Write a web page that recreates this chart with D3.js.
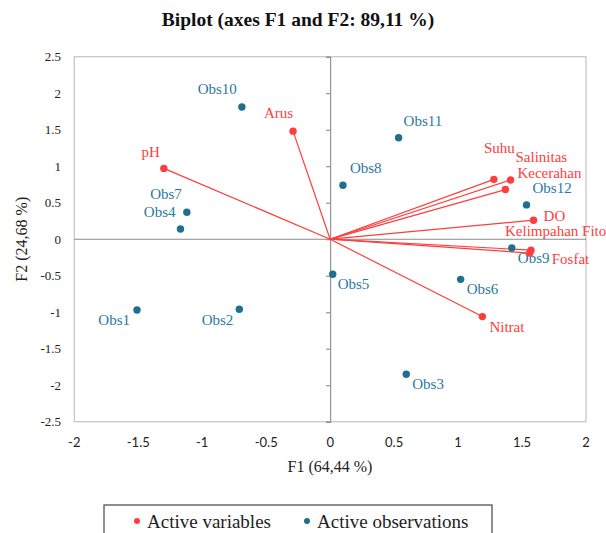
<!DOCTYPE html>
<html>
<head>
<meta charset="utf-8">
<script src="https://cdn.jsdelivr.net/npm/d3@7"></script>
<style>
    html, body { margin: 0; padding: 0; background: #ffffff; }
    svg { display: block; }
</style>
</head>
<body>
<svg id="chart" width="606" height="533"></svg>
<script>
// ------------------------------------------------------------
// Data
// ------------------------------------------------------------
const varNames = ["pH", "Arus", "Suhu", "Salinitas", "Kecerahan", "DO", "Kelimpahan Fito", "Fosfat", "Nitrat"];
const varF1 = [-1.30, -0.29, 1.28, 1.41, 1.37, 1.59, 1.57, 1.56, 1.19];
const varF2 = [0.97, 1.48, 0.82, 0.81, 0.68, 0.26, -0.15, -0.19, -1.06];

const obsNames = ["Obs1", "Obs2", "Obs3", "Obs4", "Obs5", "Obs6", "Obs7", "Obs8", "Obs9", "Obs10", "Obs11", "Obs12"];
const obsF1 = [-1.51, -0.71, 0.595, -1.17, 0.02, 1.02, -1.12, 0.10, 1.42, -0.69, 0.535, 1.535];
const obsF2 = [-0.97, -0.96, -1.85, 0.14, -0.48, -0.55, 0.37, 0.74, -0.12, 1.81, 1.39, 0.47];

const xTicks = [-2, -1.5, -1, -0.5, 0, 0.5, 1, 1.5, 2];
const yTicks = [-2.5, -2, -1.5, -1, -0.5, 0, 0.5, 1, 1.5, 2, 2.5];

// label placement [dx, dy, anchor] — same order as the names above
const varLabelPos = [
    [-4, -11, "end"], [0, -13, "end"], [-10, -26, "start"], [5, -18.5, "start"],
    [12, -12, "start"], [10, 1, "start"], [-26, -14, "start"], [22, 11, "start"], [7, 15, "start"]
];
const obsLabelPos = [
    [-7, 15, "end"], [-6, 16, "end"], [6, 15, "start"], [-5, -12, "end"],
    [5, 15, "start"], [6, 15, "start"], [-5, -13, "end"], [7, -12, "start"],
    [6, 15, "start"], [-5, -13, "end"], [5, -12, "start"], [6, -12, "start"]
];

// ------------------------------------------------------------
// Styles
// ------------------------------------------------------------
const RED = "#ff3d3d";
const BLUE = "#1f6f8f";
const SERIF = "'Liberation Serif', 'DejaVu Serif', serif";
const SANS = "Lato, 'Liberation Sans', sans-serif";

const svg = d3.select("#chart");

const x = d3.scaleLinear().domain([-2, 2]).range([74.3, 586]);
const y = d3.scaleLinear().domain([-2.5, 2.5]).range([421.7, 56.7]);

// title
svg.append("text")
    .attr("x", 298).attr("y", 26)
    .attr("text-anchor", "middle")
    .attr("font-family", SERIF)
    .attr("font-weight", "bold")
    .attr("font-size", 19.5)
    .attr("fill", "#111")
    .text("Biplot (axes F1 and F2: 89,11 %)");

// plot frame
svg.append("rect")
    .attr("x", x(-2)).attr("y", y(2.5))
    .attr("width", x(2) - x(-2)).attr("height", y(-2.5) - y(2.5))
    .attr("fill", "none")
    .attr("stroke", "#c8c8c8")
    .attr("stroke-width", 1.3);

// axes crossing at zero
svg.append("line")
    .attr("x1", x(-2)).attr("x2", x(2))
    .attr("y1", y(0)).attr("y2", y(0))
    .attr("stroke", "#8a8a8a").attr("stroke-width", 1.1);

const yAxis = d3.axisLeft(y)
    .tickValues(yTicks)
    .tickSize(4)
    .tickFormat("");
svg.append("g")
    .attr("transform", "translate(" + x(0) + ",0)")
    .call(yAxis)
    .call(function (g) {
        g.selectAll("path,line").attr("stroke", "#8a8a8a").attr("stroke-width", 1.1);
    });

// y tick labels (left of frame)
svg.append("g").selectAll("text")
    .data(yTicks)
    .enter()
    .append("text")
    .attr("x", 61)
    .attr("y", function (d) { return y(d); })
    .attr("dy", "0.35em")
    .attr("text-anchor", "end")
    .attr("font-family", SERIF)
    .attr("font-size", 13)
    .attr("fill", "#222")
    .text(function (d) { return d; });

// x tick labels (below frame)
svg.append("g").selectAll("text")
    .data(xTicks)
    .enter()
    .append("text")
    .attr("x", function (d) { return x(d); })
    .attr("y", 442)
    .attr("dy", "0.35em")
    .attr("text-anchor", "middle")
    .attr("font-family", SANS)
    .attr("font-size", 13)
    .attr("fill", "#222")
    .text(function (d) { return d; });

// axis titles
svg.append("text")
    .attr("x", 330).attr("y", 472)
    .attr("text-anchor", "middle")
    .attr("font-family", SERIF)
    .attr("font-size", 16)
    .attr("fill", "#222")
    .text("F1 (64,44 %)");

svg.append("text")
    .attr("transform", "translate(27," + y(0) + ") rotate(-90)")
    .attr("text-anchor", "middle")
    .attr("font-family", SERIF)
    .attr("font-size", 16)
    .attr("fill", "#222")
    .text("F2 (24,68 %)");

// ------------------------------------------------------------
// Variable vectors
// ------------------------------------------------------------
const varIdx = d3.range(varNames.length);
const obsIdx = d3.range(obsNames.length);

svg.append("g").selectAll("line")
    .data(varIdx)
    .enter()
    .append("line")
    .attr("x1", x(0)).attr("y1", y(0))
    .attr("x2", function (i) { return x(varF1[i]); })
    .attr("y2", function (i) { return y(varF2[i]); })
    .attr("stroke", RED)
    .attr("stroke-width", 1.2);

// observations
svg.append("g").selectAll("circle")
    .data(obsIdx)
    .enter()
    .append("circle")
    .attr("cx", function (i) { return x(obsF1[i]); })
    .attr("cy", function (i) { return y(obsF2[i]); })
    .attr("r", 3.7)
    .attr("fill", BLUE);

svg.append("g").selectAll("text")
    .data(obsIdx)
    .enter()
    .append("text")
    .attr("x", function (i) { return x(obsF1[i]) + obsLabelPos[i][0]; })
    .attr("y", function (i) { return y(obsF2[i]) + obsLabelPos[i][1]; })
    .attr("text-anchor", function (i) { return obsLabelPos[i][2]; })
    .attr("font-family", SERIF)
    .attr("font-size", 15)
    .attr("fill", "#2a78a0")
    .text(function (i) { return obsNames[i]; });

// variable end points + labels
svg.append("g").selectAll("circle")
    .data(varIdx)
    .enter()
    .append("circle")
    .attr("cx", function (i) { return x(varF1[i]); })
    .attr("cy", function (i) { return y(varF2[i]); })
    .attr("r", 3.7)
    .attr("fill", RED);

svg.append("g").selectAll("text")
    .data(varIdx)
    .enter()
    .append("text")
    .attr("x", function (i) { return x(varF1[i]) + varLabelPos[i][0]; })
    .attr("y", function (i) { return y(varF2[i]) + varLabelPos[i][1]; })
    .attr("text-anchor", function (i) { return varLabelPos[i][2]; })
    .attr("font-family", SERIF)
    .attr("font-size", 15)
    .attr("fill", RED)
    .text(function (i) { return varNames[i]; });

// ------------------------------------------------------------
// Legend (box runs past the bottom edge, as in the picture)
// ------------------------------------------------------------
const legend = svg.append("g");
legend.append("rect")
    .attr("x", 104).attr("y", 505)
    .attr("width", 388).attr("height", 40)
    .attr("fill", "#fff")
    .attr("stroke", "#444")
    .attr("stroke-width", 1.2);

const legendItems = [
    { label: "Active variables", color: RED, x: 137 },
    { label: "Active observations", color: BLUE, x: 307 }
];
legendItems.forEach(function (item) {
    legend.append("circle")
        .attr("cx", item.x).attr("cy", 521)
        .attr("r", 3).attr("fill", item.color);
    legend.append("text")
        .attr("x", item.x + 10).attr("y", 528)
        .attr("font-family", SERIF)
        .attr("font-size", 19)
        .attr("fill", "#222")
        .text(item.label);
});
</script>
</body>
</html>
